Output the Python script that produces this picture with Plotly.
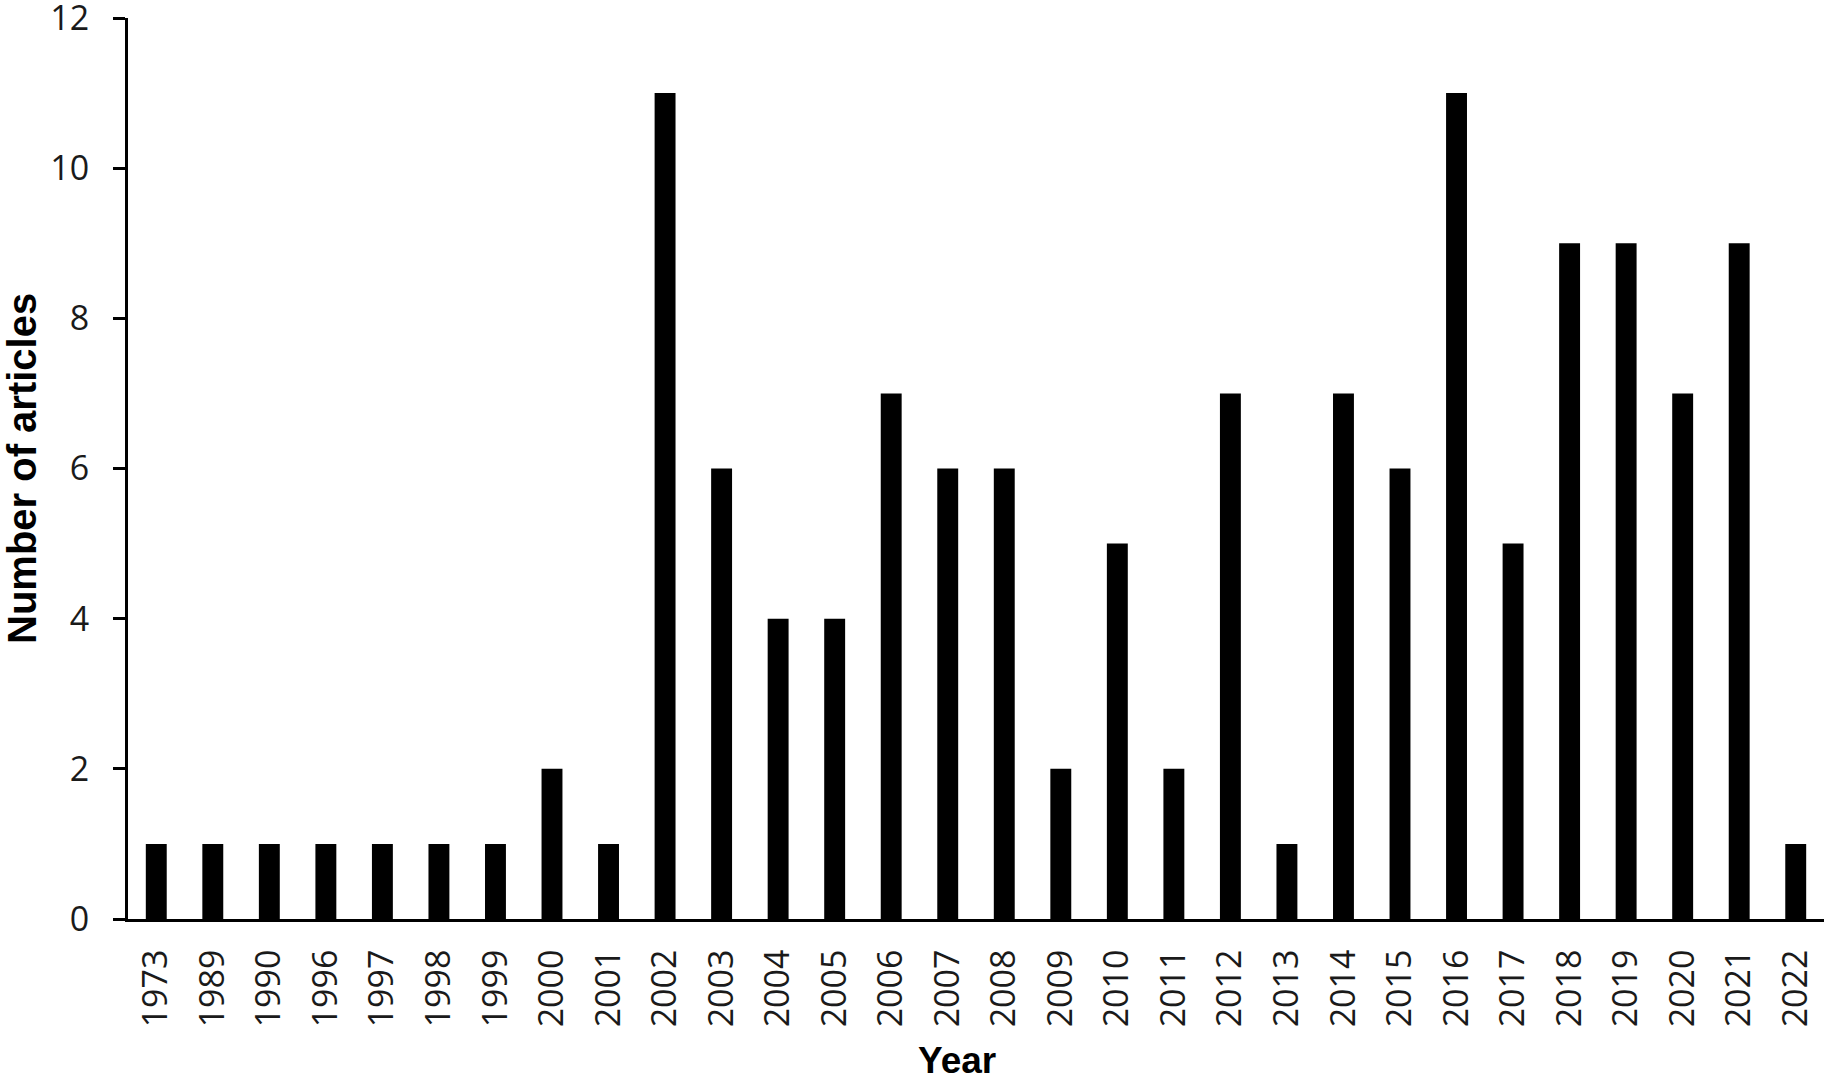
import plotly.graph_objects as go

years = ["1973", "1989", "1990", "1996", "1997", "1998", "1999", "2000", "2001", "2002",
         "2003", "2004", "2005", "2006", "2007", "2008", "2009", "2010", "2011", "2012",
         "2013", "2014", "2015", "2016", "2017", "2018", "2019", "2020", "2021", "2022"]
articles = [1, 1, 1, 1, 1, 1, 1, 2, 1, 11,
            6, 4, 4, 7, 6, 6, 2, 5, 2, 7,
            1, 7, 6, 11, 5, 9, 9, 7, 9, 1]
y_ticks = [0, 2, 4, 6, 8, 10, 12]

fig = go.Figure(go.Bar(
    x=years, y=articles,
    marker=dict(color="black", line=dict(width=0)),
    width=0.37,
))

fig.update_layout(
    width=1829, height=1082, autosize=False,
    margin=dict(l=128, r=5, t=18, b=163),
    plot_bgcolor="white", paper_bgcolor="white",
    showlegend=False,
)

tick_font = dict(family="Open Sans", size=34, color="#1a1a1a")
title_font = dict(family="Liberation Sans, Arial", color="black")

fig.update_xaxes(
    type="category", automargin=False,
    showline=True, linecolor="black", linewidth=3,
    ticks="", showgrid=False,
    tickangle=-90,
    tickfont=tick_font,
    ticklabelstandoff=14,
)
fig.update_yaxes(
    range=[0, 12], tickvals=y_ticks, automargin=False,
    showline=True, linecolor="black", linewidth=3,
    ticks="outside", ticklen=12, tickwidth=3, tickcolor="black",
    showgrid=False, zeroline=False,
    tickfont=tick_font,
    ticklabelstandoff=17,
    ticklabeloverflow="allow",
)

fig.add_annotation(text="<b>Year</b>", xref="paper", yref="paper",
                   x=0.489, y=-0.1576, xanchor="center", yanchor="middle",
                   showarrow=False, font=dict(size=37, **title_font))
fig.add_annotation(text="<b>Number of articles</b>", xref="paper", yref="paper",
                   x=-0.0628, y=0.5, xanchor="center", yanchor="middle", textangle=-90,
                   showarrow=False, font=dict(size=40, **title_font))

fig.write_html("out.html", config={"displayModeBar": False},
               post_script="document.body.style.margin='0';")
